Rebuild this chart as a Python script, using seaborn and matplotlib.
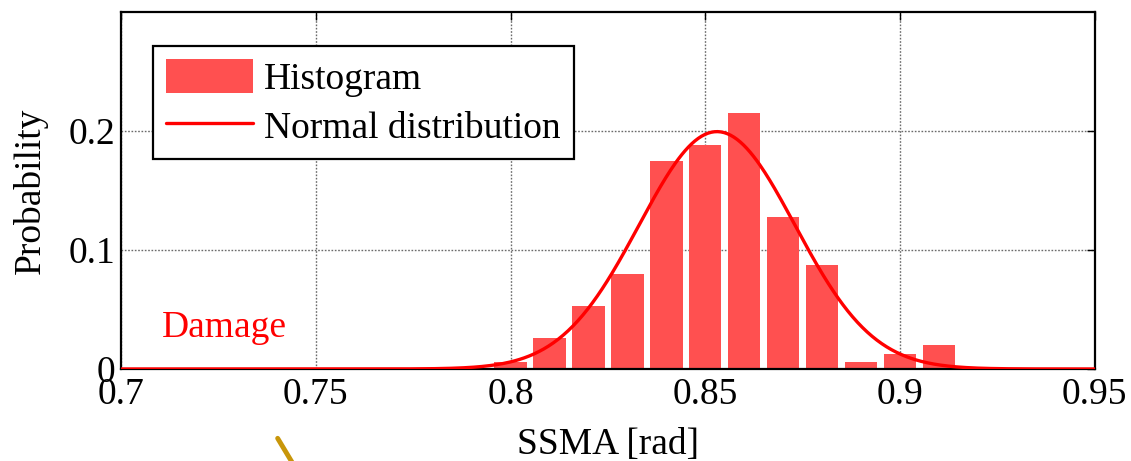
import numpy as np
import pandas as pd
import matplotlib
matplotlib.use("Agg")
import matplotlib.pyplot as plt
from matplotlib.patches import Patch
from matplotlib.lines import Line2D
import seaborn as sns

# Histogram of SSMA (bin centres, rad) and probability per bin
bin_centers = [0.80, 0.81, 0.82, 0.83, 0.84, 0.85, 0.86, 0.87, 0.88, 0.89, 0.90, 0.91]
probabilities = [0.006, 0.026, 0.053, 0.080, 0.175, 0.188, 0.215, 0.128, 0.0875, 0.006, 0.013, 0.020]
bin_width = 0.01

# Fitted normal distribution parameters
normal_mu = 0.853
normal_sigma = 0.020

x_ticks = [0.7, 0.75, 0.8, 0.85, 0.9, 0.95]
x_tick_labels = ["0.7", "0.75", "0.8", "0.85", "0.9", "0.95"]
y_ticks = [0.0, 0.1, 0.2]
y_tick_labels = ["0", "0.1", "0.2"]

legend_labels = ["Histogram", "Normal distribution"]
annotation_text = "Damage"

sns.set_style("white")
plt.rcParams["font.family"] = ["Liberation Serif", "DejaVu Serif"]
plt.rcParams["mathtext.fontset"] = "stix"
plt.rcParams["text.color"] = "black"
plt.rcParams["axes.labelcolor"] = "black"
plt.rcParams["xtick.color"] = "black"
plt.rcParams["ytick.color"] = "black"

bar_color = "#FF5050"
curve_color = "#FF0000"
fs = 27

fig = plt.figure(figsize=(11.31, 4.61), dpi=100)
ax = fig.add_axes([0.107, 0.1996, 0.861, 0.7744])

hist_df = pd.DataFrame({"ssma": bin_centers, "p": probabilities})
edges = [round(bin_centers[0] - bin_width / 2 + i * bin_width, 4)
         for i in range(len(bin_centers) + 1)]
sns.histplot(data=hist_df, x="ssma", weights="p", bins=edges, shrink=0.83,
             color=bar_color, alpha=1.0, linewidth=0, ax=ax, zorder=2)

# Normal curve scaled to probability per bin
xs = np.linspace(0.7, 0.95, 600)
pdf = bin_width * np.exp(-0.5 * ((xs - normal_mu) / normal_sigma) ** 2) / (
    normal_sigma * np.sqrt(2 * np.pi))
curve_df = pd.DataFrame({"ssma": xs, "p": pdf})
sns.lineplot(data=curve_df, x="ssma", y="p", color=curve_color, linewidth=2.4,
             ax=ax, zorder=3)

ax.set_xlim(0.7, 0.95)
ax.set_ylim(0, 0.3)
ax.set_xticks(x_ticks)
ax.set_xticklabels(x_tick_labels)
ax.set_yticks(y_ticks)
ax.set_yticklabels(y_tick_labels)
ax.tick_params(axis="both", direction="in", length=6, width=1, labelsize=fs,
               top=True, right=True, pad=4, colors="black")
ax.tick_params(axis="x", pad=6)
ax.grid(True, linestyle=(0, (1.2, 1.2)), color="#6a6a6a", linewidth=1.0, zorder=0)
ax.set_axisbelow(True)
for side, sp in ax.spines.items():
    sp.set_visible(True)
    sp.set_color("black")
    sp.set_linewidth(1.6)

ax.set_xlabel("SSMA [rad]", fontsize=fs, labelpad=11, color="black")
ax.set_ylabel("Probability", fontsize=fs, labelpad=15, color="black")

ax.text(0.7105, 0.027, annotation_text, color="red", fontsize=fs,
        ha="left", va="baseline")

handles = [Patch(facecolor=bar_color, edgecolor="none"),
           Line2D([], [], color=curve_color, linewidth=2.4)]
leg = ax.legend(handles, legend_labels, loc="upper left",
                bbox_to_anchor=(0.033, 0.905), borderaxespad=0, fontsize=fs,
                frameon=True, fancybox=False, framealpha=1, edgecolor="black",
                handlelength=2.3, handleheight=1.0, handletextpad=0.3,
                labelspacing=0.3, borderpad=0.35)
leg.get_frame().set_linewidth(1.6)
for t in leg.get_texts():
    t.set_color("black")

# Golden stroke below the axis
fig.add_artist(Line2D([0.2455, 0.2600], [0.0492, -0.01], color="#C8960A",
                      linewidth=3.5, transform=fig.transFigure))

fig.savefig("out.png", dpi=100)
